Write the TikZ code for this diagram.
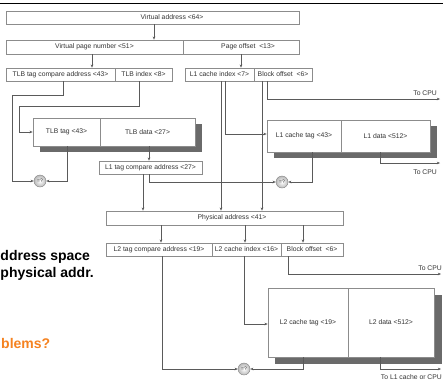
\documentclass[tikz,border=0pt]{standalone}
\usepackage{fontspec}
\setmainfont{Liberation Sans}
\usetikzlibrary{arrows.meta}
\definecolor{linec}{HTML}{5A5A5A}
\definecolor{boxc}{HTML}{8C8C8C}
\definecolor{txtc}{HTML}{333333}
\definecolor{shadc}{HTML}{6A6A6A}
\definecolor{orng}{HTML}{F58220}
\begin{document}
\begin{tikzpicture}[x=1pt,y=-1pt,
  fld/.style={draw=boxc, line width=0.6pt, fill=white, inner sep=0pt, font=\fontsize{6.8}{7}\selectfont, text=txtc},
  lbl/.style={inner sep=0pt, font=\fontsize{6.8}{7}\selectfont, text=txtc},
  conn/.style={draw=linec, line width=0.55pt},
  arr/.style={conn, -{Stealth[length=3.2pt,width=2.6pt]}},
  cmp/.style={circle, draw=gray, inner color=white, outer color=gray!55, minimum size=12pt, inner sep=0pt, font=\fontsize{5}{5}\selectfont, text=txtc},
  shad/.style={fill=shadc, draw=none},
  big/.style={font=\fontsize{14}{16}\selectfont\bfseries, inner sep=0pt}
]
\useasboundingbox (0,0) rectangle (443,383);
\fill[white] (0,0) rectangle (443,383);
\draw[line width=1.6pt] (0,3.5) -- (443,3.5);

% slide text partly hidden
\node[big, anchor=base west] (t1) at (0.3,260) {ddress space};
\node[big, anchor=base west] (t2) at (0.3,277.5) {physical addr.};
\node[big, anchor=base west, text=orng] (t3) at (1,348) {blems?};

% address fields
\node[fld, minimum width=293pt, minimum height=13pt] (va) at (152.5,17.5) {};
\node[lbl] (vatxt) at (172,17.5) {Virtual address <64>};
\node[fld, minimum width=177pt, minimum height=14pt] (vpn) at (94.5,47) {Virtual page number <51>};
\node[fld, minimum width=116pt, minimum height=14pt] (po) at (241,47) {};
\node[lbl] (potxt) at (248,47) {Page offset~ <13>};

\node[fld, minimum width=109pt, minimum height=13pt] (tlbcmp) at (60.5,74.5) {TLB tag compare address <43>};
\node[fld, minimum width=57pt, minimum height=13pt] (tlbidx) at (143.5,74.5) {TLB index <8>};
\node[fld, minimum width=69pt, minimum height=13pt] (l1idx) at (219.5,74.5) {L1 cache index <7>};
\node[fld, minimum width=58pt, minimum height=13pt] (boff1) at (283,74.5) {Block offset~ <6>};

% TLB
\fill[shad] (39.5,124) rectangle (202,152);
\node[fld, minimum width=67pt, minimum height=28pt] (tlbtag) at (66.5,132) {TLB tag <43>};
\node[fld, minimum width=95pt, minimum height=28pt] (tlbdata) at (147.5,132) {TLB data <27>};

\node[fld, minimum width=103pt, minimum height=13pt] (l1cmp) at (150.5,167.5) {L1 tag compare address <27>};

% L1 cache
\fill[shad] (274,126) rectangle (437,158);
\node[fld, minimum width=74pt, minimum height=32pt] (l1tag) at (304,136) {L1 cache tag <43>};
\node[fld, minimum width=89pt, minimum height=32pt] (l1data) at (385.5,136) {L1 data <512>};

% physical address
\node[fld, minimum width=237pt, minimum height=14pt] (pa) at (224.5,218) {};
\node[lbl] (patxt) at (232,218) {Physical address <41>};

\node[fld, minimum width=106pt, minimum height=13pt] (l2cmp) at (159,249.5) {L2 tag compare address <19>};
\node[fld, minimum width=69pt, minimum height=13pt] (l2idx) at (246.5,249.5) {L2 cache index <16>};
\node[fld, minimum width=62pt, minimum height=13pt] (boff2) at (312,249.5) {Block offset~ <6>};

% L2 cache
\fill[shad] (275,295) rectangle (442,364);
\node[fld, minimum width=80pt, minimum height=69pt] (l2tag) at (308,322.5) {L2 cache tag <19>};
\node[fld, minimum width=86pt, minimum height=69pt] (l2data) at (391,322.5) {L2 data <512>};

% comparators
\node[cmp] (c1) at (40,181) {=?};
\node[cmp] (c2) at (282,182) {=?};
\node[cmp] (c3) at (244,369) {=?};

% outputs
\coordinate (cpu1) at (440,99);
\coordinate (cpu2) at (440,163);
\coordinate (cpu3) at (441,274);
\coordinate (cpu4) at (441,369);
\node[lbl, anchor=east] (cpu1txt) at (437,93) {To CPU};
\node[lbl, anchor=east] (cpu2txt) at (437,172) {To CPU};
\node[lbl, anchor=east] (cpu3txt) at (442,268) {To CPU};
\node[lbl, anchor=east] (cpu4txt) at (442,377.5) {To L1 cache or CPU};

% connectors
\draw[arr] (154,0 |- va.south) -- (154,0 |- vpn.north);
\draw[arr] (92,0 |- vpn.south) -- (92,0 |- tlbcmp.north);
\draw[arr] (241,0 |- po.south) -- (241,0 |- l1idx.north);

\draw[arr] (63,0 |- tlbcmp.south) -- (63,95) -- (12,95) |- (c1.west);
\draw[arr] (139,0 |- tlbidx.south) -- (139,106) -- (19,106) |- (tlbtag.west);
\draw[arr] (67,0 |- tlbtag.south) |- (c1.east);
\draw[arr] (149,0 |- tlbdata.south) -- (149,0 |- l1cmp.north);

\draw[arr] (143,0 |- l1cmp.south) -- (143,0 |- pa.north);
\draw[arr] (149,0 |- l1cmp.south) |- (c2.west);

\draw[arr] (221,0 |- l1idx.south) -- (221,0 |- pa.north);
\draw[arr] (225,0 |- l1idx.south) |- ([yshift=2pt]l1tag.west);
\draw[arr] (262,0 |- boff1.south) -- (262,0 |- pa.north);
\draw[arr] (267,0 |- boff1.south) |- (cpu1);

\draw[arr] (312,0 |- l1tag.south) |- (c2.east);
\draw[arr] (380,0 |- l1data.south) |- (cpu2);

\draw[arr] (161,0 |- pa.south) -- (161,0 |- l2cmp.north);
\draw[arr] (245,0 |- pa.south) -- (245,0 |- l2idx.north);
\draw[arr] (303,0 |- pa.south) -- (303,0 |- boff2.north);

\draw[arr] (162,0 |- l2cmp.south) |- (c3.west);
\draw[arr] (244,0 |- l2idx.south) |- ([yshift=-1.5pt]l2tag.west);
\draw[arr] (288,0 |- boff2.south) |- (cpu3);
\draw[arr] (303,0 |- l2tag.south) |- (c3.east);
\draw[arr] (380,0 |- l2data.south) |- (cpu4);
\end{tikzpicture}
\end{document}
